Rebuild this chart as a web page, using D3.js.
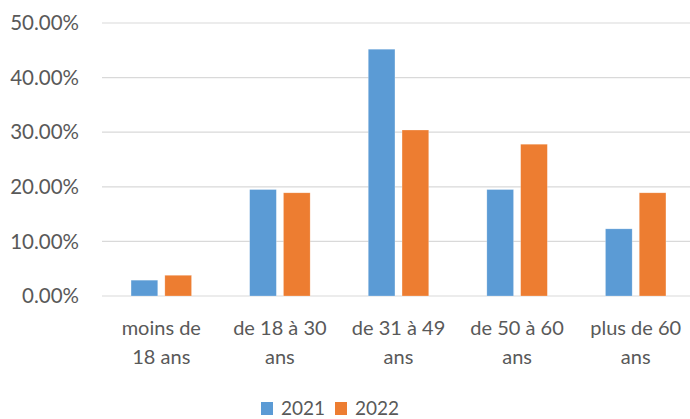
<!DOCTYPE html>
<html><head><meta charset="utf-8">
<script src="https://cdn.jsdelivr.net/npm/d3@7"></script>
<style>body{margin:0;background:#fff}svg{display:block}text{font-family:Lato,"Open Sans",sans-serif;fill:#595959}</style>
</head><body><svg id="c" width="690" height="419"></svg>
<script>
const categories = [["moins de","18 ans"],["de 18 à 30","ans"],["de 31 à 49","ans"],["de 50 à 60","ans"],["plus de 60","ans"]];
const seriesNames = ["2021","2022"];
const values2021 = [0.029,0.195,0.452,0.195,0.123];
const values2022 = [0.038,0.189,0.304,0.278,0.189];
const yTicks = [0,0.1,0.2,0.3,0.4,0.5];
const colors = ["#5B9BD5","#ED7D31"];

const svg = d3.select("#c");
const x0 = d3.scaleBand().domain(d3.range(categories.length)).range([102,695]).paddingInner(0.49).paddingOuter(0.245);
const x1 = d3.scaleBand().domain([0,1]).range([0,x0.bandwidth()]).paddingInner(0.21);
const y = d3.scaleLinear().domain([0,0.5]).range([296,23]);

const grid = svg.append("g");
grid.selectAll("line").data(yTicks).join("line")
  .attr("x1",102).attr("x2",690).attr("y1",d=>y(d)).attr("y2",d=>y(d))
  .attr("stroke","#D9D9D9").attr("stroke-width",1.2);

svg.append("g").selectAll("text").data(yTicks).join("text")
  .attr("x",79).attr("y",d=>y(d)).attr("dy","0.35em").attr("text-anchor","end")
  .style("font-size","20.5px").text(d=>(d*100).toFixed(2)+"%");

const data = categories.map((c,i)=>[values2021[i],values2022[i]]);
const g = svg.append("g");
data.forEach((vals,i)=>{
  g.append("g").attr("transform",`translate(${x0(i)},0)`).selectAll("rect").data(vals).join("rect")
    .attr("x",(d,j)=>x1(j)).attr("width",x1.bandwidth())
    .attr("y",d=>y(d)).attr("height",d=>y(0)-y(d))
    .attr("fill",(d,j)=>colors[j]).attr("stroke","#fff").attr("stroke-opacity",0.4).attr("stroke-width",0.6);
});

const xl = svg.append("g");
categories.forEach((c,i)=>{
  const cx = x0(i)+x0.bandwidth()/2;
  c.forEach((line,k)=>{
    xl.append("text").attr("x",cx).attr("y",328+k*29).attr("dy","0.35em").attr("text-anchor","middle")
      .style("font-size","20px").text(line);
  });
});

const legX = [261,335];
const leg = svg.append("g");
seriesNames.forEach((s,i)=>{
  leg.append("rect").attr("x",legX[i]).attr("y",402).attr("width",12).attr("height",13).attr("fill",colors[i]);
  leg.append("text").attr("x",legX[i]+20).attr("y",415).style("font-size","19px").text(s);
});
</script></body></html>
